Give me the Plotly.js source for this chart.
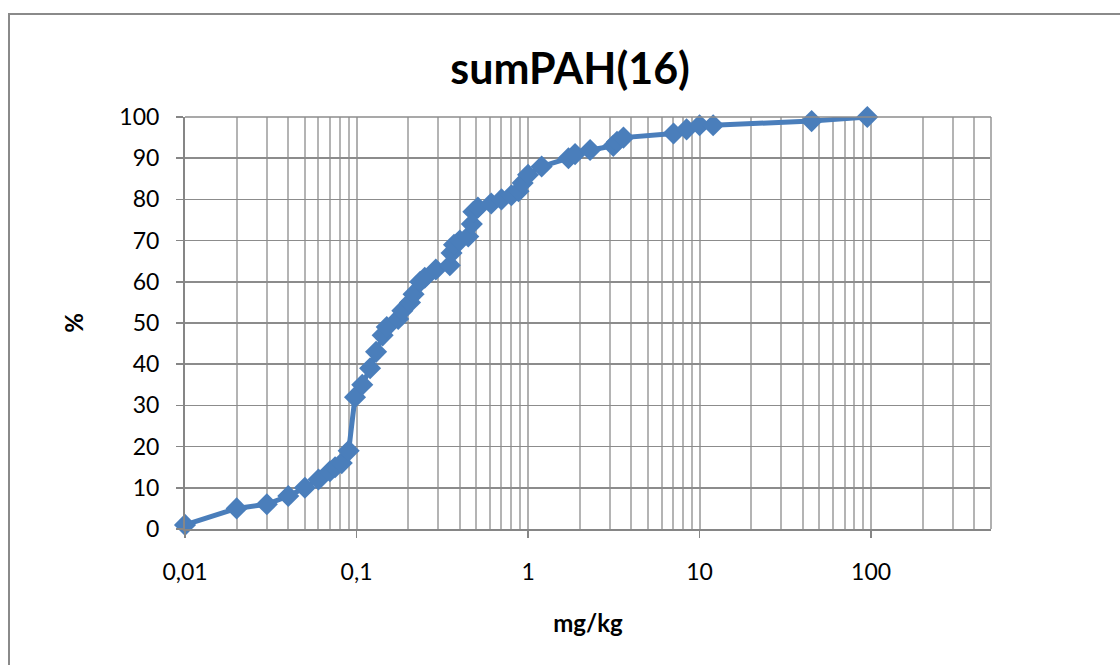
<!DOCTYPE html>
<html>
<head>
<meta charset="utf-8">
<script src="https://cdn.plot.ly/plotly-3.0.1.min.js"></script>
<style>
  html, body { margin: 0; padding: 0; background: #fff; overflow: hidden; }
  #frame { position: absolute; left: 8px; top: 13px; width: 1200px; height: 700px;
           border-left: 2px solid #8a8a8a; border-top: 2px solid #8a8a8a; box-sizing: border-box; }
  #chart { position: absolute; left: 0; top: 0; width: 1120px; height: 665px; }
</style>
</head>
<body>
<div id="frame"></div>
<div id="chart"></div>
<script>
// Concentration (mg/kg) and cumulative percentage
const concentration = [0.01, 0.02, 0.03, 0.04, 0.05, 0.06, 0.07, 0.075, 0.082, 0.09,
  0.098, 0.108, 0.12, 0.13, 0.142, 0.15, 0.175, 0.185, 0.205, 0.215, 0.235, 0.25,
  0.29, 0.35, 0.358, 0.37, 0.40, 0.448, 0.47, 0.48, 0.51, 0.61, 0.70, 0.80, 0.88,
  0.93, 1.0, 1.2, 1.72, 1.88, 2.3, 3.14, 3.3, 3.6, 7.05, 8.4, 10, 12, 45, 95];
const cumulativePct = [1, 5, 6, 8, 10, 12, 14, 15, 16, 19,
  32, 35, 39, 43, 47, 49, 51, 53, 55, 57, 60, 61,
  63, 64, 67, 69, 70, 71, 74, 77, 78, 79, 80, 81, 82,
  84, 86, 88, 90, 91, 92, 93, 94, 95, 96, 97, 98, 98, 99, 100];

const majorTickVals = [0.01, 0.1, 1, 10, 100];
const majorTickText = ['0,01', '0,1', '1', '10', '100'];

const minorVals = [];
[0.01, 0.1, 1, 10, 100].forEach(d => { for (let k = 2; k <= 9; k++) { if (d * k <= 500) minorVals.push(d * k); } });

const trace = {
  x: concentration, y: cumulativePct, type: 'scatter', mode: 'lines+markers',
  cliponaxis: false,
  line: { color: '#4A7EBB', width: 5 },
  marker: { symbol: 'diamond', size: 17, color: '#4A7EBB', line: { width: 0 } },
  hoverinfo: 'x+y', showlegend: false
};

const layout = {
  width: 1120, height: 665,
  paper_bgcolor: 'rgba(0,0,0,0)', plot_bgcolor: 'rgba(0,0,0,0)',
  margin: { l: 185, r: 129, t: 117, b: 136 },
  font: { family: 'Lato, "Open Sans", sans-serif', color: '#000', size: 23 },
  title: { text: 'sumPAH(16)', font: { family: 'Lato, sans-serif', size: 43, weight: 'bold', color: '#000' },
           xref: 'container', yref: 'container', x: 0.509, y: 0.897, xanchor: 'center', yanchor: 'middle' },
  xaxis: {
    type: 'log', range: [Math.log10(0.01), Math.log10(500)],
    tickmode: 'array', tickvals: majorTickVals, ticktext: majorTickText,
    ticks: 'outside', ticklen: 7, tickcolor: '#868686', tickwidth: 1.5,
    showline: true, linecolor: '#868686', linewidth: 2, mirror: false,
    showgrid: true, gridcolor: '#b0b0b0', gridwidth: 2,
    minor: { tickmode: 'array', tickvals: minorVals, showgrid: true, gridcolor: '#b4b4b4', gridwidth: 2, ticks: '' },
    zeroline: false, ticklabelstandoff: 14,
    title: { text: 'mg/kg', font: { size: 24, weight: 'bold' }, standoff: 32 }
  },
  yaxis: {
    range: [0, 100], dtick: 10, tick0: 0,
    ticks: 'outside', ticklen: 7, tickcolor: '#868686', tickwidth: 1.5,
    showline: true, linecolor: '#868686', linewidth: 2,
    showgrid: true, gridcolor: '#8c8c8c', gridwidth: 1.5,
    zeroline: false, ticklabelstandoff: 12,
    title: { text: '%', font: { size: 24, weight: 'bold' }, standoff: 29 }
  },
  shapes: [
    { type: 'line', xref: 'paper', yref: 'paper', x0: 1, x1: 1, y0: 0, y1: 1, line: { color: '#b0b0b0', width: 2 } },
    { type: 'line', xref: 'paper', yref: 'paper', x0: 0, x1: 1, y0: 1, y1: 1, line: { color: '#8c8c8c', width: 1.5 } }
  ]
};

Plotly.newPlot('chart', [trace], layout, { displayModeBar: false, staticPlot: true });
</script>
</body>
</html>
